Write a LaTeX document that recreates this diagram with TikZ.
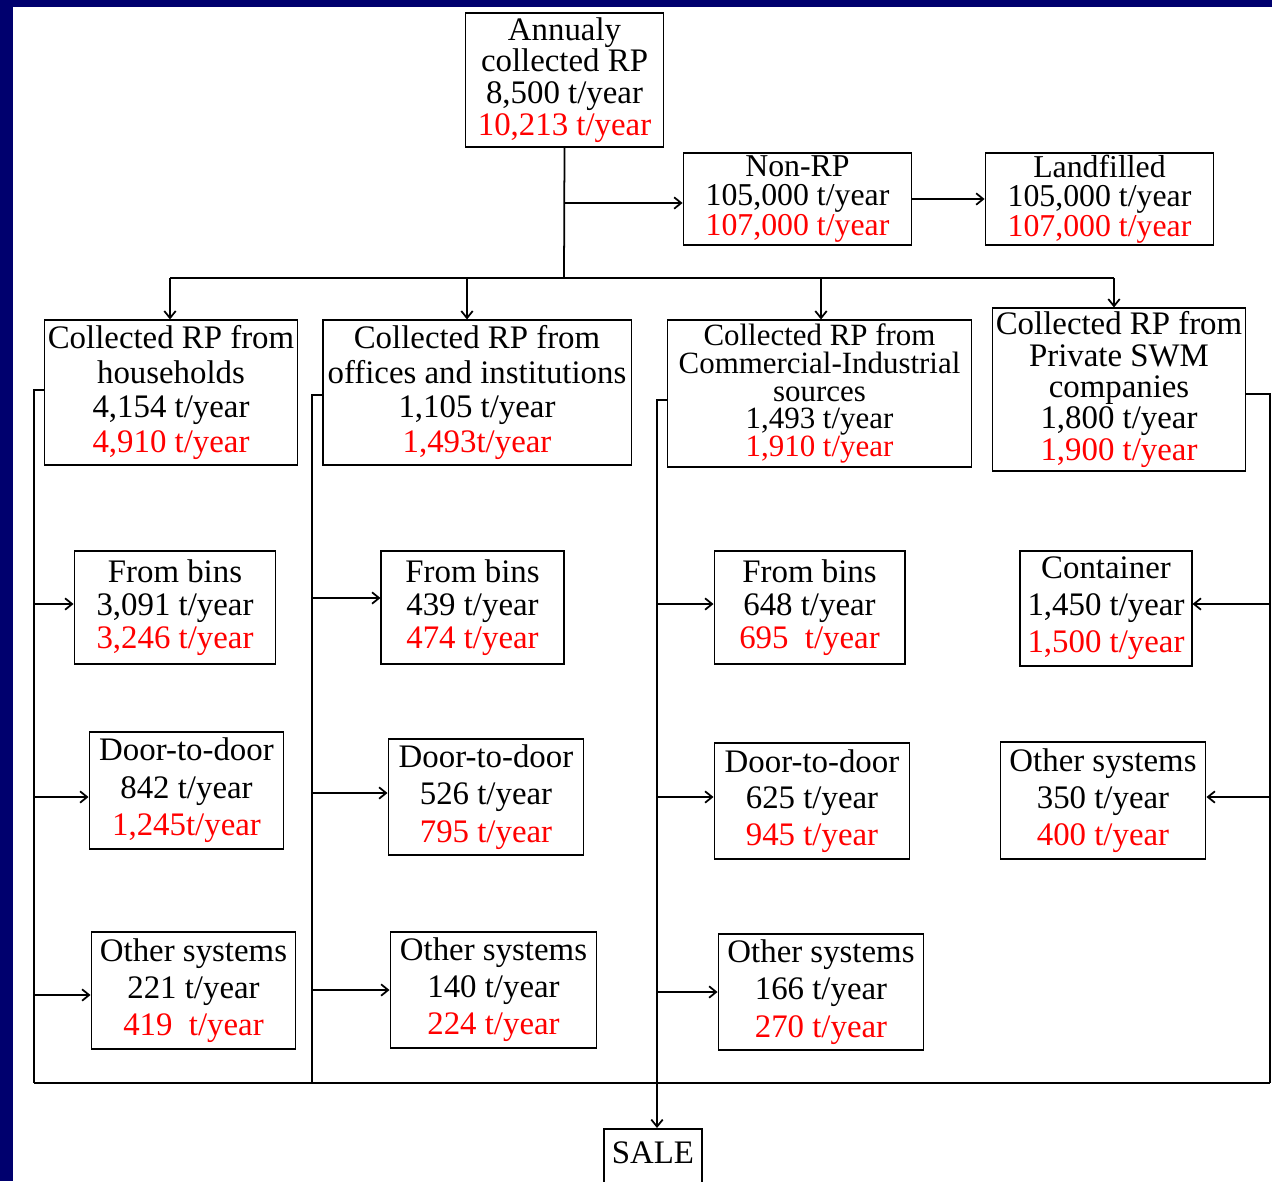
\documentclass[tikz,border=0pt]{standalone}
\usepackage{fontspec}
\setmainfont{Liberation Serif}
\usetikzlibrary{arrows.meta}
\definecolor{navyband}{RGB}{0,0,110}
\definecolor{valred}{RGB}{255,0,0}
\newcommand\redt[1]{\textcolor{valred}{#1}}
\begin{document}
\begin{tikzpicture}[x=0.02cm,y=-0.02cm,
  box/.style 2 args={draw=black, line width=1pt, fill=white, align=center, inner sep=0pt,
    minimum width=#1*0.5669pt, minimum height=#2*0.5669pt},
  ls/.style={font=\fontsize{18.7}{#1}\selectfont},
  conn/.style={draw=black, line width=1pt},
  arr/.style={conn, -{Straight Barb[length=4pt,width=6.5pt]}}
]
\fill[navyband] (0,0) rectangle (1272,1181);
\fill[white] (13,7) rectangle (1272,1181);
\useasboundingbox (0,0) rectangle (1272,1181);

% top
\node[box={199}{134}, ls=18.1] (ann) at (564.5,80) {Annualy\\collected RP\\8,500 t/year\\\redt{10,213 t/year}};
\node[box={229}{92}, font=\fontsize{18.1}{16.9}\selectfont] (non) at (797.5,199) {Non-RP\\105,000 t/year\\\redt{107,000 t/year}};
\node[box={229}{92}, font=\fontsize{18.1}{16.9}\selectfont] (land) at (1099.5,199) {Landfilled\\105,000 t/year\\\redt{107,000 t/year}};

% sources
\node[box={254}{145}, ls=19.8] (hh) at (171,392.5) {Collected RP from\\households\\4,154 t/year\\\redt{4,910 t/year}};
\node[box={310}{145}, ls=19.8] (of) at (477,392.5) {Collected RP from\\offices and institutions\\1,105 t/year\\\redt{1,493t/year}};
\node[box={305}{147}, font=\fontsize{17.6}{15.9}\selectfont] (ci) at (819.5,393.5) {Collected RP from\\Commercial-Industrial\\sources\\1,493 t/year\\\redt{1,910 t/year}};
\node[box={254}{163}, ls=17.9] (pr) at (1119,389.5) {Collected RP from\\Private SWM\\companies\\1,800 t/year\\\redt{1,900 t/year}};

% households column
\node[box={202}{113}, ls=18.7] (hhb) at (175,607.5) {From bins\\3,091 t/year\\\redt{3,246 t/year}};
\node[box={195}{117}, ls=21.3] (hhd) at (186.5,790.5) {Door-to-door\\842 t/year\\\redt{1,245t/year}};
\node[box={205}{117}, ls=21] (hho) at (193.5,990.5) {Other systems\\221 t/year\\\redt{419~~t/year}};

% offices column
\node[box={183}{113}, ls=18.7] (ofb) at (472.5,607.5) {From bins\\439 t/year\\\redt{474 t/year}};
\node[box={196}{116}, ls=21.2] (ofd) at (486,797) {Door-to-door\\526 t/year\\\redt{795 t/year}};
\node[box={207}{116}, ls=21] (ofo) at (493.5,990) {Other systems\\140 t/year\\\redt{224 t/year}};

% commercial column
\node[box={191}{113}, ls=18.7] (cib) at (809.5,607.5) {From bins\\648 t/year\\\redt{695~~t/year}};
\node[box={196}{116}, ls=20.7] (cid) at (812,801) {Door-to-door\\625 t/year\\\redt{945 t/year}};
\node[box={206}{116}, ls=21.2] (cio) at (821,992) {Other systems\\166 t/year\\\redt{270 t/year}};

% private column
\node[box={172}{115}, ls=21] (prc) at (1106,608.5) {Container\\1,450 t/year\\\redt{1,500 t/year}};
\node[box={206}{117}, ls=21] (pro) at (1103,800.5) {Other systems\\350 t/year\\\redt{400 t/year}};

% sale
\node[box={98}{80}, anchor=north] (sale) at (653,1128) {};
\node[ls=18.7, anchor=center] (saletxt) at (653,1153) {SALE};

% coordinates
\coordinate (j1) at (564,203);
\coordinate (b1) at (170,278);
\coordinate (b2) at (467,278);
\coordinate (b3) at (821,278);
\coordinate (b4) at (1114,278);
\coordinate (jb) at (564,278);
\coordinate (hl) at (34,390);
\coordinate (ol) at (312,395);
\coordinate (cl) at (657,400);
\coordinate (pl) at (1270,394);
\coordinate (bl) at (34,1083);
\coordinate (bo) at (312,1083);
\coordinate (bp) at (1270,1083);

% top connectors
\draw[conn] (ann.south) -- (jb);
\draw[arr] (j1) -- (j1 -| non.west);
\draw[arr] (non.east) -- (land.west);
\draw[conn] (b1) -- (b4);
\draw[arr] (b1) -- (b1 |- hh.north);
\draw[arr] (b2) -- (b2 |- of.north);
\draw[arr] (b3) -- (b3 |- ci.north);
\draw[arr] (b4) -- (b4 |- pr.north);

% side collectors
\draw[conn] (hl -| hh.west) -- (hl) -- (bl);
\draw[conn] (ol -| of.west) -- (ol) -- (bo);
\draw[arr] (cl -| ci.west) -- (cl) -- (cl |- sale.north);
\draw[conn] (pl -| pr.east) -- (pl) -- (bp);
\draw[conn] (bl) -- (bp);

% branch arrows
\coordinate (h1) at (34,604);
\coordinate (h2) at (34,797);
\coordinate (h3) at (34,995);
\coordinate (o1) at (312,598);
\coordinate (o2) at (312,793);
\coordinate (o3) at (312,990);
\coordinate (c1) at (657,604);
\coordinate (c2) at (657,797);
\coordinate (c3) at (657,992);
\coordinate (p1) at (1270,604);
\coordinate (p2) at (1270,797);
\draw[arr] (h1) -- (h1 -| hhb.west);
\draw[arr] (h2) -- (h2 -| hhd.west);
\draw[arr] (h3) -- (h3 -| hho.west);
\draw[arr] (o1) -- (o1 -| ofb.west);
\draw[arr] (o2) -- (o2 -| ofd.west);
\draw[arr] (o3) -- (o3 -| ofo.west);
\draw[arr] (c1) -- (c1 -| cib.west);
\draw[arr] (c2) -- (c2 -| cid.west);
\draw[arr] (c3) -- (c3 -| cio.west);
\draw[arr] (p1) -- (p1 -| prc.east);
\draw[arr] (p2) -- (p2 -| pro.east);
\end{tikzpicture}
\end{document}
